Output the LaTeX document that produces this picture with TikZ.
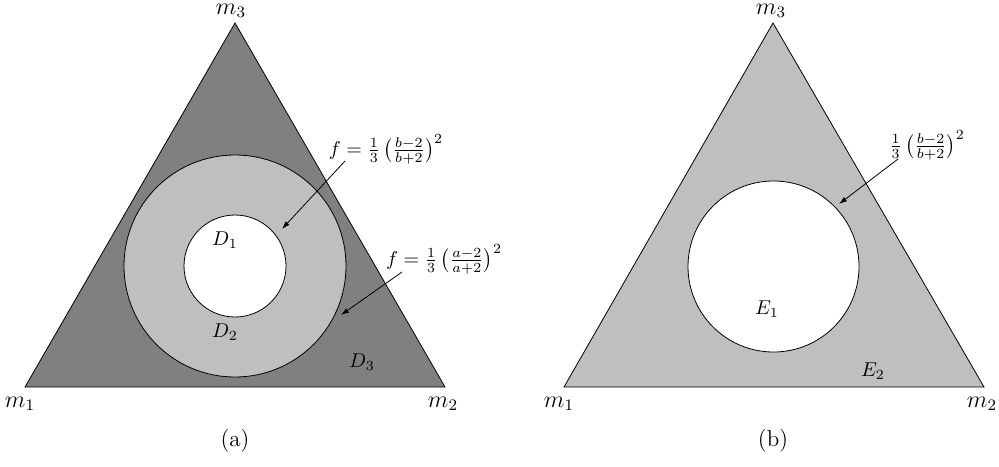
\documentclass[tikz,border=0pt]{standalone}
\usetikzlibrary{arrows.meta}
\definecolor{darkfill}{gray}{0.5}
\definecolor{lightfill}{gray}{0.75}
\tikzset{
  edge/.style={draw=black, line width=0.4pt},
  lbl/.style={inner sep=0pt},
  biglbl/.style={inner sep=0pt, font=\fontsize{11.5}{13}\selectfont},
  ptr/.style={-{Latex[length=4pt,width=2.6pt]}, line width=0.4pt},
  disc/.style={circle, draw=black, line width=0.4pt, inner sep=0pt},
}
\begin{document}
\begin{tikzpicture}[x=0.5pt,y=-0.5pt]
\useasboundingbox (0,0) rectangle (999,466);
% ---- (a)
\coordinate (A1) at (25,387);
\coordinate (A2) at (445,387);
\coordinate (A3) at (235,23);
\filldraw[edge, fill=darkfill] (A1) -- (A2) -- (A3) -- cycle;
\node[disc, fill=lightfill, minimum size=222*0.5pt] (outer) at (235,266) {};
\node[disc, fill=white, minimum size=102*0.5pt] (inner) at (235,266) {};
\node[biglbl] (m1a) at (20,404) {$m_1$};
\node[biglbl] (m2a) at (443,404) {$m_2$};
\node[biglbl] (m3a) at (231,11) {$m_3$};
\node[lbl] (D1) at (225,240) {$D_1$};
\node[lbl] (D2) at (225,332) {$D_2$};
\node[lbl] (D3) at (362,362) {$D_3$};
\node[lbl] (fa) at (386,149) {$f=\frac{1}{3}\,\bigl(\frac{b-2}{b+2}\bigr)^2$};
\node[lbl] (fb) at (444,259) {$f=\frac{1}{3}\,\bigl(\frac{a-2}{a+2}\bigr)^2$};
\coordinate (fas) at (345,161);
\coordinate (fae) at (282,229);
\coordinate (fbs) at (402,272);
\coordinate (fbe) at (341,315);
\draw[ptr] (fas) -- (fae);
\draw[ptr] (fbs) -- (fbe);
\node[biglbl] (capa) at (235,441) {(a)};
% ---- (b)
\coordinate (B1) at (564,387);
\coordinate (B2) at (984,387);
\coordinate (B3) at (773,23);
\filldraw[edge, fill=lightfill] (B1) -- (B2) -- (B3) -- cycle;
\node[disc, fill=white, minimum size=171*0.5pt] (hole) at (773.5,266.5) {};
\node[biglbl] (m1b) at (559,404) {$m_1$};
\node[biglbl] (m2b) at (982,404) {$m_2$};
\node[biglbl] (m3b) at (771,11) {$m_3$};
\node[lbl] (E1) at (767,309) {$E_1$};
\node[lbl] (E2) at (873,371) {$E_2$};
\node[lbl] (fc) at (927,145) {$\frac{1}{3}\,\bigl(\frac{b-2}{b+2}\bigr)^2$};
\coordinate (fcs) at (898,159);
\coordinate (fce) at (839,204);
\draw[ptr] (fcs) -- (fce);
\node[biglbl] (capb) at (773,441) {(b)};
\end{tikzpicture}
\end{document}
